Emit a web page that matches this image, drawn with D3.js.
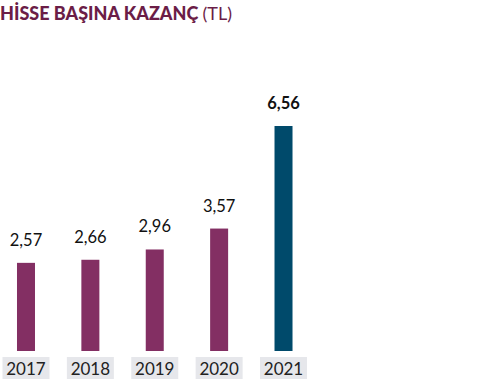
<!DOCTYPE html>
<html><head><meta charset="utf-8">
<script src="https://cdn.jsdelivr.net/npm/d3@7"></script>
<style>body{margin:0;background:#fff}svg{display:block}</style>
</head><body>
<script>
const categories = ["2017","2018","2019","2020","2021"];
const values = [2.57, 2.66, 2.96, 3.57, 6.56];
const valueLabels = ["2,57","2,66","2,96","3,57","6,56"];
const highlight = [false,false,false,false,true];

const W=500,H=383;
const svg=d3.select("body").append("svg").attr("width",W).attr("height",H);
const font="Lato, 'Open Sans', sans-serif";

const title=svg.append("text").attr("x",0).attr("y",20).attr("font-family",font).attr("font-size",18).attr("fill","#6b1d47");
title.append("tspan").attr("font-weight","900").text("HİSSE BAŞINA KAZANÇ ");
title.append("tspan").attr("font-weight","400").text("(TL)");

const x=d3.scaleBand().domain(categories).range([-6.2,315.7]).padding(0);
const y=d3.scaleLinear().domain([0,6.56]).range([351,126]);
const bw=18;
const cx=d=>x(d)+x.bandwidth()/2;

const g=svg.selectAll("g.bar").data(categories).join("g");
g.append("rect").attr("x",d=>cx(d)-23.5).attr("y",357).attr("width",47).attr("height",22).attr("fill","#e6e7eb");
g.append("text").attr("x",cx).attr("y",375).attr("text-anchor","middle")
 .attr("font-family",font).attr("font-size",17).attr("fill","#222").text(d=>d);
g.append("rect").attr("x",d=>cx(d)-bw/2).attr("width",bw)
 .attr("y",(d,i)=>y(values[i])).attr("height",(d,i)=>y(0)-y(values[i]))
 .attr("fill",(d,i)=>highlight[i]?"#004a6b":"#832f63");
g.append("text").attr("x",cx).attr("y",(d,i)=>y(values[i])-17)
 .attr("text-anchor","middle").attr("font-family",font).attr("font-size",16.5)
 .attr("font-weight",(d,i)=>highlight[i]?"700":"400").attr("fill","#111").text((d,i)=>valueLabels[i]);
</script>
</body></html>
